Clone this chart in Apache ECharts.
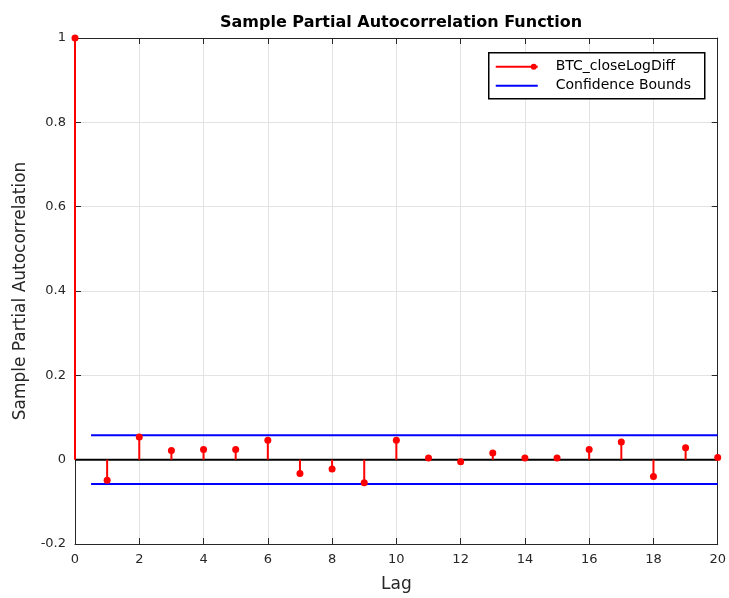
<!DOCTYPE html>
<html>
<head>
<meta charset="utf-8">
<script src="https://cdn.jsdelivr.net/npm/echarts@6/dist/echarts.min.js"></script>
<style>
  html, body { margin: 0; padding: 0; background: #fff; }
  #chart { width: 729px; height: 598px; }
</style>
</head>
<body>
<div id="chart"></div>
<script>
// Partial autocorrelation of BTC log-differenced close prices, lags 0..20
const lags = [0, 1, 2, 3, 4, 5, 6, 7, 8, 9, 10, 11, 12, 13, 14, 15, 16, 17, 18, 19, 20];
const pacf = [1, -0.049, 0.054, 0.022, 0.024, 0.024, 0.046, -0.033, -0.022, -0.055, 0.046,
              0.004, -0.005, 0.016, 0.004, 0.004, 0.024, 0.042, -0.040, 0.028, 0.005];
const bound = 0.058;
const boundRange = [0.5, 20];
const xTicks = { min: 0, max: 20, step: 2 };
const yTicks = { min: -0.2, max: 1, step: 0.2 };

const stemData = lags.map((l, i) => [l, pacf[i]]);

const font = 'DejaVu Sans, Liberation Sans, Arial, sans-serif';
const txt = '#262626';

const chart = echarts.init(document.getElementById('chart'), null, { renderer: 'canvas' });

const baseAxis = {
  axisLine: { show: true, onZero: false, lineStyle: { color: '#262626', width: 1 } },
  axisTick: { show: true, inside: true, length: 6, lineStyle: { color: '#262626' } },
  splitLine: { show: true, lineStyle: { color: '#e3e3e3', width: 1 } }
};

chart.setOption({
  animation: false,
  backgroundColor: '#fff',
  title: {
    text: 'Sample Partial Autocorrelation Function',
    left: 215,
    top: 10,
    textStyle: { fontFamily: font, fontSize: 16, fontWeight: 'bold', color: '#000' }
  },
  grid: { left: 75, right: 10, top: 38, bottom: 53 },
  xAxis: [
    Object.assign({}, baseAxis, {
      type: 'value', min: xTicks.min, max: xTicks.max, interval: xTicks.step,
      position: 'bottom',
      name: 'Lag', nameLocation: 'middle', nameGap: 32,
      nameTextStyle: { fontFamily: font, fontSize: 17, color: txt },
      axisLabel: { fontFamily: font, fontSize: 13, color: txt, margin: 9 }
    }),
    Object.assign({}, baseAxis, {
      type: 'value', min: xTicks.min, max: xTicks.max, interval: xTicks.step,
      position: 'top', axisLabel: { show: false }, splitLine: { show: false }
    })
  ],
  yAxis: [
    Object.assign({}, baseAxis, {
      type: 'value', min: yTicks.min, max: yTicks.max, interval: yTicks.step,
      position: 'left',
      name: 'Sample Partial Autocorrelation', nameLocation: 'middle', nameGap: 46,
      nameTextStyle: { fontFamily: font, fontSize: 17, color: txt },
      axisLabel: {
        fontFamily: font, fontSize: 13, color: txt, margin: 9,
        formatter: v => String(Math.round(v * 10) / 10)
      }
    }),
    Object.assign({}, baseAxis, {
      type: 'value', min: yTicks.min, max: yTicks.max, interval: yTicks.step,
      position: 'right', axisLabel: { show: false }, splitLine: { show: false }
    })
  ],
  series: [
    {
      // stem baseline at zero
      type: 'line', silent: true, symbol: 'none',
      data: [[xTicks.min, 0], [xTicks.max, 0]],
      lineStyle: { color: '#000', width: 2 }, z: 3
    },
    {
      name: 'Confidence Bounds',
      type: 'line', silent: true, symbol: 'none',
      data: [[boundRange[0], bound], [boundRange[1], bound]],
      lineStyle: { color: '#0000ff', width: 2 }, z: 4
    },
    {
      type: 'line', silent: true, symbol: 'none',
      data: [[boundRange[0], -bound], [boundRange[1], -bound]],
      lineStyle: { color: '#0000ff', width: 2 }, z: 4
    },
    {
      name: 'BTC_closeLogDiff',
      type: 'custom',
      data: stemData,
      z: 5,
      renderItem: function (params, api) {
        const x = api.value(0), y = api.value(1);
        const p0 = api.coord([x, 0]);
        const p1 = api.coord([x, y]);
        return {
          type: 'group',
          children: [
            { type: 'line', shape: { x1: p0[0], y1: p0[1], x2: p1[0], y2: p1[1] },
              style: { stroke: '#ff0000', lineWidth: 2 } },
            { type: 'circle', shape: { cx: p1[0], cy: p1[1], r: 3.5 },
              style: { fill: '#ff0000' } }
          ]
        };
      }
    }
  ],
  graphic: [
    {
      type: 'group', left: 488, top: 52, z: 100,
      children: [
        { type: 'rect', shape: { x: 0, y: 0, width: 216, height: 46 },
          style: { fill: '#fff', stroke: '#000', lineWidth: 1.5 }, z: 100 },
        { type: 'line', shape: { x1: 7, y1: 14, x2: 49, y2: 14 },
          style: { stroke: '#ff0000', lineWidth: 2 }, z: 101 },
        { type: 'circle', shape: { cx: 45, cy: 14, r: 3 }, style: { fill: '#ff0000' }, z: 101 },
        { type: 'text', x: 67, y: 14, z: 101,
          style: { text: 'BTC_closeLogDiff', fontFamily: font, fontSize: 14, fill: '#000',
                   verticalAlign: 'middle' } },
        { type: 'line', shape: { x1: 7, y1: 33, x2: 49, y2: 33 },
          style: { stroke: '#0000ff', lineWidth: 2 }, z: 101 },
        { type: 'text', x: 67, y: 33, z: 101,
          style: { text: 'Confidence Bounds', fontFamily: font, fontSize: 14, fill: '#000',
                   verticalAlign: 'middle' } }
      ]
    }
  ]
});
</script>
</body>
</html>
